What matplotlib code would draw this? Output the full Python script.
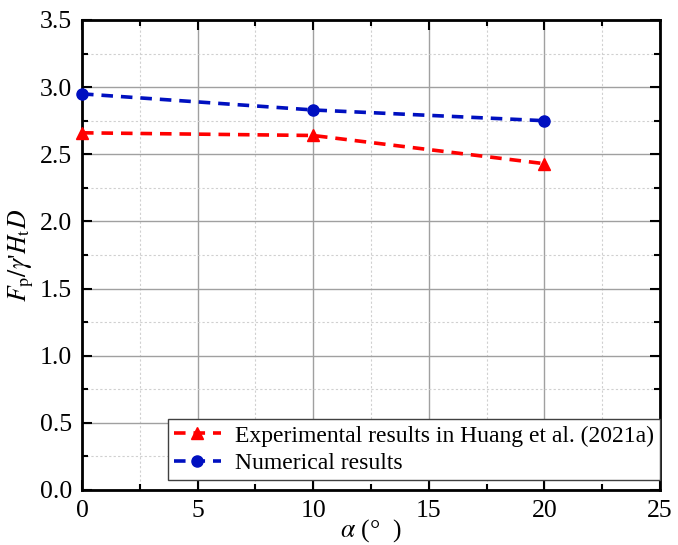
import matplotlib
matplotlib.use("Agg")
import matplotlib.pyplot as plt
from matplotlib.ticker import MultipleLocator

plt.rcParams["font.family"] = ["Liberation Serif", "DejaVu Serif"]
plt.rcParams["mathtext.fontset"] = "stix"
plt.rcParams["font.size"] = 18.5

# inclination angle (deg) and normalised force
alpha = [0, 10, 20]
exp_vals = [2.66, 2.64, 2.43]
num_vals = [2.95, 2.83, 2.75]

fig = plt.figure(figsize=(6.78, 5.45), dpi=100)
ax = fig.add_axes([82 / 678, 55 / 545, 578 / 678, 470 / 545])

ax.plot(alpha, exp_vals, color="#ff0000", ls=(0, (3.2, 2.2)), lw=2.6,
        marker="^", ms=8, label="Experimental results in Huang et al. (2021a)",
        clip_on=False, zorder=5)
ax.plot(alpha, num_vals, color="#0010c0", ls=(0, (3.2, 2.2)), lw=2.6,
        marker="o", ms=8, label="Numerical results", clip_on=False, zorder=5)

ax.set_xlim(0, 25)
ax.set_ylim(0, 3.5)
ax.xaxis.set_major_locator(MultipleLocator(5))
ax.xaxis.set_minor_locator(MultipleLocator(2.5))
ax.yaxis.set_major_locator(MultipleLocator(0.5))
ax.yaxis.set_minor_locator(MultipleLocator(0.25))
ax.yaxis.set_major_formatter(plt.FormatStrFormatter("%.1f"))

ax.grid(which="major", color="#a0a0a0", lw=1.0, ls="-")
ax.grid(which="minor", color="#d0d0d0", lw=0.8, ls=(0, (2, 2)))
ax.set_axisbelow(True)

ax.tick_params(which="both", direction="in", top=True, right=True, width=1.5)
ax.tick_params(which="major", length=7, pad=7)
ax.tick_params(which="minor", length=4)
for s in ax.spines.values():
    s.set_linewidth(2.0)

ax.set_xlabel(r"$\alpha$ (°  )", labelpad=-3)
ax.set_ylabel(r"$F_\mathrm{p}/\gamma$'$H_\mathrm{t}D$", labelpad=3)

leg = ax.legend(loc="lower right", bbox_to_anchor=(1.0, 10 / 470),
                frameon=True, fancybox=False, framealpha=1,
                edgecolor="#404040", borderaxespad=0.0, handlelength=2.0,
                handletextpad=0.6, labelspacing=0.25, borderpad=0.25, fontsize=17)
leg.get_frame().set_linewidth(1.0)

fig.savefig("out.png", dpi=100)
